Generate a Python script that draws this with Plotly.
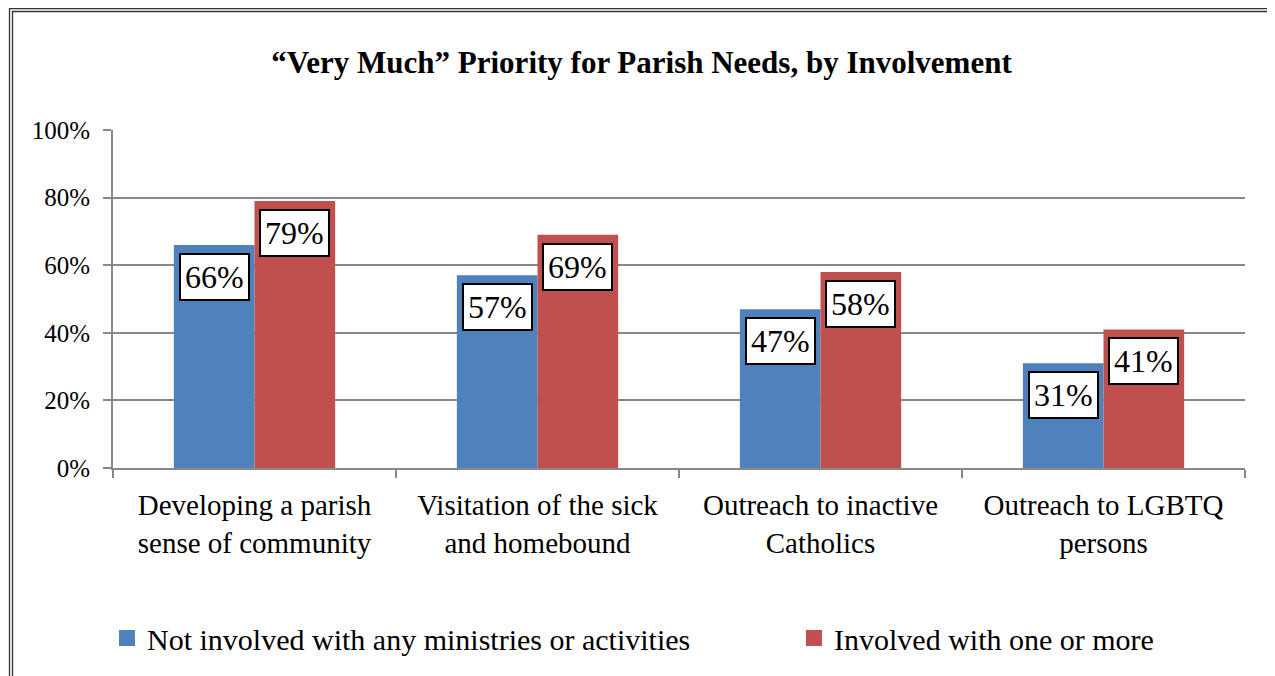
import plotly.graph_objects as go

# data
categories = [
    "Developing a parish<br>sense of community",
    "Visitation of the sick<br>and homebound",
    "Outreach to inactive<br>Catholics",
    "Outreach to LGBTQ<br>persons",
]
not_involved = [66, 57, 47, 31]
involved = [79, 69, 58, 41]
series_names = ["Not involved with any ministries or activities", "Involved with one or more"]
y_ticks = [0, 20, 40, 60, 80, 100]

BLUE = "#4F81BD"
RED = "#C0504D"
GRID = "#888888"
FONT = "Liberation Serif"

# page has an 8px body margin, so the figure is drawn 8px in from the window edge
OFF = 8
W, H = 1275 - OFF, 676 - OFF
M_L, M_R, M_T, M_B = 105, 30, 122, 208
PW, PH = W - M_L - M_R, H - M_T - M_B


def px_x(x):
    # window pixel -> paper fraction
    return (x - OFF - M_L) / PW


def px_y(y):
    return (H - M_B - (y - OFF)) / PH


fig = go.Figure()
legends = ["legend", "legend2"]
for name, vals, col, lg in [(series_names[0], not_involved, BLUE, legends[0]),
                            (series_names[1], involved, RED, legends[1])]:
    fig.add_trace(go.Bar(x=categories, y=vals, name=name, marker=dict(color=col, line=dict(width=0)),
                         showlegend=False))
    # legend stand-ins so the square swatch can be sized like the original
    fig.add_trace(go.Scatter(x=[None], y=[None], mode="markers", name=name, legend=lg,
                             marker=dict(symbol="square", size=17, color=col)))

# boxed value labels just below each bar top
bar_w = PW / len(categories) * 0.57 / 2
for i, cat in enumerate(categories):
    for vals, shift in [(not_involved, -bar_w / 2), (involved, bar_w / 2)]:
        fig.add_annotation(x=cat, y=vals[i], text=f"{vals[i]}%", showarrow=False,
                           xshift=shift, yshift=-8, yanchor="top",
                           font=dict(family=FONT, size=32, color="black"),
                           bgcolor="white", bordercolor="black", borderwidth=2, borderpad=4)

# double frame around the chart
for left, right in ((9.5, 1274), (12.5, 1271)):
    fig.add_shape(type="rect", xref="paper", yref="paper",
                  x0=px_x(left), x1=px_x(right), y0=px_y(700), y1=px_y(left - 1),
                  line=dict(color="#333333", width=1.3), fillcolor="rgba(0,0,0,0)")

leg_font = dict(family=FONT, size=30, color="black")
fig.update_layout(
    width=W, height=H,
    margin=dict(l=M_L, r=M_R, t=M_T, b=M_B, autoexpand=False),
    paper_bgcolor="white", plot_bgcolor="white",
    barmode="group", bargap=0.43, bargroupgap=0,
    font=dict(family=FONT, color="black"),
    title=dict(text="<b>“Very Much” Priority for Parish Needs, by Involvement</b>",
               x=0.5, xanchor="center", y=1 - (62 - OFF) / H, yanchor="middle",
               font=dict(family=FONT, size=31, color="black")),
    legend=dict(orientation="h", x=px_x(130 - 23), xanchor="left", y=px_y(638), yanchor="middle",
                font=leg_font, itemsizing="trace", bgcolor="rgba(0,0,0,0)"),
    legend2=dict(orientation="h", x=px_x(817 - 23), xanchor="left", y=px_y(638), yanchor="middle",
                 font=leg_font, itemsizing="trace", bgcolor="rgba(0,0,0,0)"),
    showlegend=True,
)
fig.update_xaxes(showline=True, linecolor=GRID, linewidth=2, ticks="outside", tickson="boundaries",
                 ticklen=8, tickcolor=GRID, tickwidth=2, showgrid=False,
                 tickfont=dict(family=FONT, size=29, color="black"), ticklabelstandoff=10)
fig.update_yaxes(range=[0, 100], tickvals=y_ticks, ticktext=[f"{v}%" for v in y_ticks],
                 showline=True, linecolor=GRID, linewidth=2, ticks="outside", ticklen=8,
                 tickcolor=GRID, tickwidth=2, showgrid=True, gridcolor=GRID, gridwidth=2,
                 zeroline=False, tickfont=dict(family=FONT, size=25, color="black"),
                 ticklabelstandoff=8)

fig.write_html("out.html")
